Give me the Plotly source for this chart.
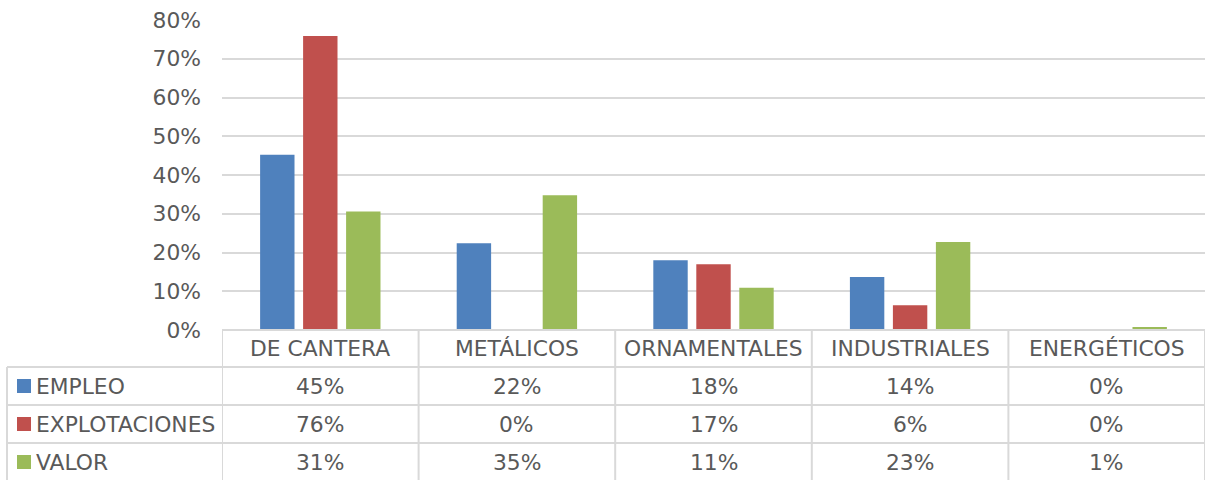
import plotly.graph_objects as go

# Chart data
categories = ["DE CANTERA", "METÁLICOS", "ORNAMENTALES", "INDUSTRIALES", "ENERGÉTICOS"]
series_names = ["EMPLEO", "EXPLOTACIONES", "VALOR"]
empleo = [0.452, 0.224, 0.180, 0.137, 0.001]
explotaciones = [0.759, 0.002, 0.170, 0.064, 0.001]
valor = [0.306, 0.348, 0.109, 0.227, 0.008]
y_ticks = [0.0, 0.1, 0.2, 0.3, 0.4, 0.5, 0.6, 0.7, 0.8]

series_values = [empleo, explotaciones, valor]
colors = ["#4F81BD", "#C0504D", "#9BBB59"]

W, H = 1206, 480
M_L, M_R, M_T, M_B = 222, 1, 20, 150
plot_w = W - M_L - M_R
plot_h = H - M_T - M_B

FONT = "DejaVu Sans"
FSIZE = 21.8
TXT = "#595959"
GRID = "#D9D9D9"


def py(pix):
    """pixel row -> paper y"""
    return (H - M_B - pix) / plot_h


def px(pix):
    """pixel column -> paper x"""
    return (pix - M_L) / plot_w


fig = go.Figure()
for name, vals, col in zip(series_names, series_values, colors):
    fig.add_trace(go.Bar(x=list(range(len(categories))), y=vals, name=name,
                         marker=dict(color=col, line=dict(width=0))))

shapes = []
annotations = []

# data table grid
row_edges = [330, 367, 405, 443, 481]
n = len(categories)
# top of header row (category area only)
shapes.append(dict(type="line", xref="paper", yref="paper", x0=0, x1=1,
                   y0=py(row_edges[0]), y1=py(row_edges[0]),
                   line=dict(color=GRID, width=2)))
for r in row_edges[1:]:
    shapes.append(dict(type="line", xref="paper", yref="paper", x0=px(7), x1=1,
                       y0=py(r), y1=py(r), line=dict(color=GRID, width=2)))
for i in range(n + 1):
    shapes.append(dict(type="line", xref="x", yref="paper", x0=i - 0.5, x1=i - 0.5,
                       y0=py(row_edges[0]), y1=py(row_edges[-1]),
                       line=dict(color=GRID, width=2)))
shapes.append(dict(type="line", xref="paper", yref="paper", x0=px(7), x1=px(7),
                   y0=py(row_edges[1]), y1=py(row_edges[-1]),
                   line=dict(color=GRID, width=2)))

# header row: category names
hdr_y = py((row_edges[0] + row_edges[1]) / 2)
for i, c in enumerate(categories):
    annotations.append(dict(x=i, y=hdr_y, xref="x", yref="paper", text=c,
                            showarrow=False, xanchor="center", yanchor="middle",
                            font=dict(family=FONT, size=FSIZE, color=TXT)))

# series rows: legend key + name + values
for k, (name, vals, col) in enumerate(zip(series_names, series_values, colors)):
    top, bot = row_edges[k + 1], row_edges[k + 2]
    mid = (top + bot) / 2
    shapes.append(dict(type="rect", xref="paper", yref="paper",
                       x0=px(17), x1=px(31), y0=py(mid - 7), y1=py(mid + 7),
                       fillcolor=col, line=dict(width=0)))
    annotations.append(dict(x=px(34), y=py(mid), xref="paper", yref="paper",
                            text=name, showarrow=False, xanchor="left",
                            yanchor="middle",
                            font=dict(family=FONT, size=FSIZE, color=TXT)))
    for i, v in enumerate(vals):
        annotations.append(dict(x=i, y=py(mid), xref="x", yref="paper",
                                text=f"{round(v * 100):d}%", showarrow=False,
                                xanchor="center", yanchor="middle",
                                font=dict(family=FONT, size=FSIZE, color=TXT)))

fig.update_layout(
    width=W, height=H,
    margin=dict(l=M_L, r=M_R, t=M_T, b=M_B, pad=0),
    paper_bgcolor="white", plot_bgcolor="white",
    barmode="group", bargap=0.344, bargroupgap=0.2,
    showlegend=False,
    shapes=shapes, annotations=annotations,
    xaxis=dict(range=[-0.5, n - 0.5], showticklabels=False, showgrid=False,
               zeroline=False, showline=False, fixedrange=True),
    yaxis=dict(range=[0, 0.8], tickvals=y_ticks, tickformat=".0%",
               showgrid=True, gridcolor=GRID, gridwidth=2, zeroline=False,
               showline=False, ticks="", ticklabelstandoff=20,
               tickfont=dict(family=FONT, size=FSIZE, color=TXT)),
)

fig.write_html("out.html")
